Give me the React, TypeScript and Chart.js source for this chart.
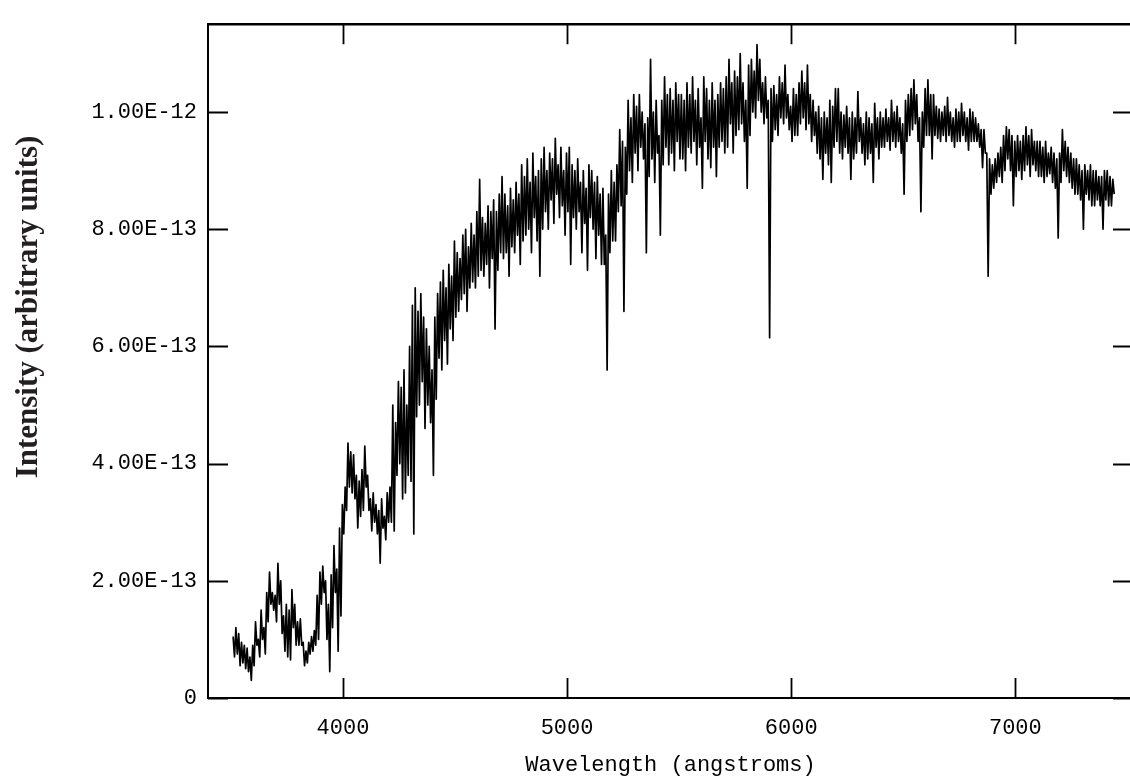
import React, { useEffect, useRef } from "react";
import { Chart, registerables } from "chart.js";

Chart.register(...registerables);

// Spectrum sampling grid (angstroms): one bin every 12.5 A, starting at 3510
const startWavelength = 3510;
const binWidth = 12.5;

// Upper value of the noisy trace in each bin, in units of 1E-13 (one row = 100 A)
const upperE13: number[] = [
  1.05, 1.2, 1.1, 0.95, 0.9, 0.85, 0.7, 0.9,
  1.3, 1.0, 1.5, 1.2, 1.8, 2.15, 1.8, 1.75,
  2.3, 2.0, 1.4, 1.6, 1.5, 1.85, 1.6, 1.3,
  1.35, 0.95, 0.8, 0.95, 1.05, 1.15, 1.75, 2.15,
  2.25, 2.0, 1.6, 2.1, 2.6, 2.2, 2.9, 3.3,
  3.6, 4.35, 4.2, 4.15, 3.8, 3.7, 3.9, 4.3,
  3.8, 3.4, 3.5, 3.3, 3.2, 3.4, 3.1, 3.5,
  3.6, 5.0, 4.7, 5.4, 5.3, 5.6, 5.0, 6.0,
  6.7, 7.0, 6.6, 6.9, 6.5, 6.3, 6.0, 5.6,
  6.5, 6.9, 7.1, 7.3, 7.0, 7.4, 7.2, 7.8,
  7.6, 7.5, 7.9, 8.0, 7.7, 8.1, 7.9, 8.3,
  8.85, 8.2, 8.1, 8.4, 8.3, 8.5, 8.3, 8.6,
  8.9, 8.6, 8.4, 8.7, 8.5, 8.8, 8.6, 9.1,
  8.9, 9.2, 8.8, 9.3, 8.9, 9.0, 9.2, 9.4,
  9.0, 9.3, 9.2, 9.55, 9.1, 9.4, 9.0, 9.3,
  9.4, 9.1, 9.0, 9.2, 8.8, 9.0, 8.7, 9.1,
  9.0, 8.8, 8.9, 8.6, 8.7, 7.9, 8.6, 9.0,
  8.8, 9.1, 9.7, 9.5, 9.4, 10.2, 9.9, 10.3,
  10.1, 10.3, 10.0, 9.8, 9.9, 10.9, 10.0, 10.2,
  9.6, 10.2, 10.6, 10.3, 10.4, 10.2, 10.5, 10.3,
  10.3, 10.2, 10.5, 10.3, 10.6, 10.2, 10.4, 9.9,
  10.6, 10.4, 10.2, 10.5, 10.2, 10.3, 10.5, 10.4,
  10.6, 10.9, 10.5, 10.7, 10.6, 11.0, 10.5, 10.2,
  10.8, 10.9, 10.7, 11.15, 10.9, 10.5, 10.6, 10.2,
  10.4, 10.45, 10.3, 10.6, 10.5, 10.8, 10.3, 10.1,
  10.4, 10.3, 10.5, 10.7, 10.5, 10.8, 10.3, 10.2,
  10.0, 10.1, 9.9, 10.0, 9.9, 10.2, 10.1, 10.4,
  10.4, 10.0, 9.95, 10.1, 9.9, 10.0, 9.9, 10.35,
  9.9, 9.8, 10.0, 9.9, 9.8, 10.15, 9.9, 10.0,
  9.9, 10.05, 9.9, 10.2, 10.0, 10.1, 9.9, 9.8,
  10.2, 10.3, 10.4, 10.55, 10.3, 9.9, 10.0, 10.4,
  10.55, 10.3, 10.3, 10.1, 10.05, 10.0, 10.1, 10.25,
  10.0, 9.9, 10.05, 10.0, 10.15, 10.0, 9.9, 10.05,
  10.0, 9.9, 9.8, 9.7, 9.7, 9.3, 9.2, 9.1,
  9.2, 9.3, 9.4, 9.6, 9.75, 9.7, 9.6, 9.5,
  9.6, 9.5, 9.6, 9.75, 9.6, 9.7, 9.5, 9.5,
  9.5, 9.4, 9.5, 9.3, 9.4, 9.3, 9.2, 9.3,
  9.7, 9.5, 9.4, 9.3, 9.2, 9.2, 9.1, 9.0,
  9.1, 9.0, 9.1, 9.0, 9.0, 8.9, 8.9, 9.0,
  9.0, 8.9, 8.85,
];

// Lower value of the noisy trace in each bin, in units of 1E-13
const lowerE13: number[] = [
  0.7, 0.75, 0.55, 0.6, 0.5, 0.45, 0.3, 0.55,
  0.9, 0.7, 1.0, 0.75, 1.3, 1.6, 1.5, 1.3,
  1.6, 1.1, 0.8, 0.7, 0.65, 1.2, 0.9, 0.9,
  0.9, 0.55, 0.6, 0.75, 0.8, 0.9, 1.0, 1.6,
  1.8, 1.0, 0.45, 1.2, 1.8, 0.8, 1.4, 2.8,
  3.2, 3.6, 3.5, 3.4, 2.9, 3.1, 3.2, 3.6,
  3.2, 2.85, 3.0, 2.8, 2.3, 2.9, 2.7, 3.0,
  3.0, 2.85, 3.8, 4.0, 3.4, 3.5, 3.8, 3.7,
  2.8, 4.8, 5.0, 5.4, 4.6, 5.0, 4.7, 3.8,
  5.1, 5.8, 5.6, 6.1, 5.7, 6.3, 6.1, 6.5,
  6.6, 6.8, 6.9, 6.6, 7.0, 7.1, 7.0, 7.2,
  7.3, 7.2, 7.4, 7.0, 7.5, 6.3, 7.3, 7.6,
  7.5, 7.6, 7.2, 7.7, 7.6, 7.9, 7.4, 7.8,
  7.9, 8.0, 7.6, 8.2, 7.8, 7.2, 8.0, 8.3,
  8.0, 8.5, 8.1, 8.6, 8.2, 8.4, 7.9, 8.3,
  7.4, 8.2, 8.0, 8.3, 7.6, 8.1, 7.3, 8.2,
  8.0, 7.5, 7.9, 7.4, 7.4, 5.6, 7.6, 7.8,
  7.8, 8.3, 8.4, 6.6, 8.6, 9.0, 8.8, 9.3,
  9.0, 9.4, 9.2, 7.6, 8.9, 9.2, 8.8, 9.3,
  7.9, 9.1, 9.4, 9.1, 9.3, 9.0, 9.5, 9.2,
  9.2, 9.0, 9.4, 9.3, 9.5, 9.1, 9.4, 8.7,
  9.5, 9.2, 9.05, 9.4, 8.9, 9.4, 9.5, 9.3,
  9.4, 9.8, 9.3, 9.6, 9.7, 9.8, 9.5, 8.7,
  9.6, 10.0, 9.9, 10.2, 10.0, 9.8, 9.9, 6.15,
  9.5, 9.7, 9.6, 9.9, 9.8, 9.9, 9.7, 9.5,
  9.6, 9.6, 9.8, 9.9, 9.7, 9.8, 9.5, 9.6,
  9.3, 9.2, 8.85, 9.3, 9.1, 8.8, 9.4, 9.5,
  9.3, 9.2, 9.4, 9.3, 8.85, 9.2, 9.3, 9.5,
  9.3, 9.1, 9.2, 9.3, 8.8, 9.4, 9.2, 9.4,
  9.4, 9.5, 9.35, 9.5, 9.4, 9.5, 9.3, 8.6,
  9.5, 9.6, 9.7, 9.8, 9.5, 8.3, 9.4, 9.6,
  9.6, 9.2, 9.6, 9.55, 9.5, 9.6, 9.5, 9.6,
  9.5, 9.4, 9.5, 9.5, 9.6, 9.5, 9.35, 9.5,
  9.5, 9.5, 9.4, 9.05, 9.3, 7.2, 8.6, 8.7,
  8.8, 8.9, 8.8, 9.0, 9.2, 9.0, 8.4, 8.9,
  9.0, 8.85, 9.0, 9.1, 8.9, 9.1, 9.0, 8.9,
  8.9, 8.8, 8.9, 8.95, 8.8, 8.7, 7.85, 8.8,
  9.0, 8.9, 8.8, 8.7, 8.6, 8.6, 8.5, 8.0,
  8.6, 8.5, 8.4, 8.4, 8.5, 8.4, 8.0, 8.5,
  8.4, 8.4, 8.6,
];

const xAxisMin = 3398;
const xAxisMax = 7525;
const xTickValues = [4000, 5000, 6000, 7000];
const yAxisMax = 11.5;
const yTickValues = [0, 2, 4, 6, 8, 10];
const xAxisTitle = "Wavelength (angstroms)";
const yAxisTitle = "Intensity (arbitrary units)";

const tickFont = { family: '"Liberation Mono", monospace', size: 22, weight: "normal" as const, lineHeight: 1.2 };

const framePlugin = {
  id: "spectrumFrame",
  afterDraw(chart: any) {
    const { ctx, chartArea: a, scales } = chart;
    const xs = scales.x;
    const ys = scales.y;
    ctx.save();
    ctx.strokeStyle = "#000";
    ctx.lineCap = "butt";
    ctx.lineWidth = 2.6;
    ctx.beginPath();
    ctx.moveTo(a.left - 1, a.top);
    ctx.lineTo(a.right + 1, a.top);
    ctx.stroke();
    ctx.lineWidth = 2;
    ctx.beginPath();
    ctx.moveTo(a.left, a.top);
    ctx.lineTo(a.left, a.bottom);
    ctx.lineTo(a.right, a.bottom);
    ctx.lineTo(a.right, a.top);
    ctx.stroke();
    const len = 20;
    ctx.lineWidth = 1.8;
    ctx.beginPath();
    xs.ticks.forEach((t: any) => {
      const px = Math.round(xs.getPixelForValue(t.value)) + 0.5;
      ctx.moveTo(px, a.bottom);
      ctx.lineTo(px, a.bottom - len);
      ctx.moveTo(px, a.top);
      ctx.lineTo(px, a.top + len);
    });
    ys.ticks.forEach((t: any) => {
      const py = Math.round(ys.getPixelForValue(t.value)) + 0.5;
      ctx.moveTo(a.left, py);
      ctx.lineTo(a.left + len, py);
      ctx.moveTo(a.right, py);
      ctx.lineTo(a.right - len, py);
    });
    ctx.stroke();
    ctx.translate(37, 307);
    ctx.rotate(-Math.PI / 2);
    ctx.font = 'bold 31px "Liberation Serif", "Times New Roman", serif';
    ctx.textAlign = "center";
    ctx.textBaseline = "alphabetic";
    ctx.fillStyle = "#231f20";
    ctx.fillText(yAxisTitle, 0, 0);
    ctx.restore();
  },
};

export default function App() {
  const canvasRef = useRef<HTMLCanvasElement | null>(null);

  useEffect(() => {
    const canvas = canvasRef.current;
    if (!canvas) return;
    const points: { x: number; y: number }[] = [];
    upperE13.forEach((hi, i) => {
      const w = startWavelength + i * binWidth;
      points.push({ x: w, y: hi });
      points.push({ x: w + binWidth / 2, y: lowerE13[i] });
    });
    const chart = new Chart(canvas, {
      type: "line",
      data: {
        datasets: [
          {
            data: points,
            borderColor: "#000",
            borderWidth: 1.7,
            borderJoinStyle: "round",
            pointRadius: 0,
            tension: 0,
            fill: false,
          },
        ],
      },
      options: {
        animation: false,
        responsive: false,
        maintainAspectRatio: false,
        devicePixelRatio: 1,
        parsing: false as any,
        layout: { padding: { top: 14, right: 17, left: 0, bottom: 0 } },
        plugins: { legend: { display: false }, tooltip: { enabled: false }, title: { display: false } },
        scales: {
          x: {
            type: "linear",
            min: xAxisMin,
            max: xAxisMax,
            grid: { display: false, drawTicks: false },
            border: { display: false },
            afterBuildTicks: (s: any) => {
              s.ticks = xTickValues.map((value) => ({ value }));
            },
            ticks: {
              autoSkip: false,
              maxRotation: 0,
              color: "#000",
              font: tickFont,
              padding: 17,
              callback: (v: any) => String(v),
            },
            title: {
              display: true,
              text: xAxisTitle,
              color: "#000",
              font: tickFont,
              padding: { top: 0, bottom: 5 },
            },
            afterFit: (s: any) => {
              s.height = 85;
            },
          },
          y: {
            type: "linear",
            min: 0,
            max: yAxisMax,
            grid: { display: false, drawTicks: false },
            border: { display: false },
            afterBuildTicks: (s: any) => {
              s.ticks = yTickValues.map((value) => ({ value }));
            },
            ticks: {
              autoSkip: false,
              color: "#000",
              font: tickFont,
              padding: 11,
              callback: (v: any) => (v === 0 ? "0" : (Number(v) * 1e-13).toExponential(2).toUpperCase()),
            },
            afterFit: (s: any) => {
              s.width = 208;
            },
          },
        },
      },
      plugins: [framePlugin],
    });
    return () => chart.destroy();
  }, []);

  return (
    <div
      style={{
        position: "fixed",
        left: 0,
        top: 0,
        width: 1130,
        height: 783,
        overflow: "hidden",
        background: "#fff",
      }}
    >
      <canvas ref={canvasRef} width={1150} height={783} style={{ display: "block", width: 1150, height: 783 }} />
    </div>
  );
}
